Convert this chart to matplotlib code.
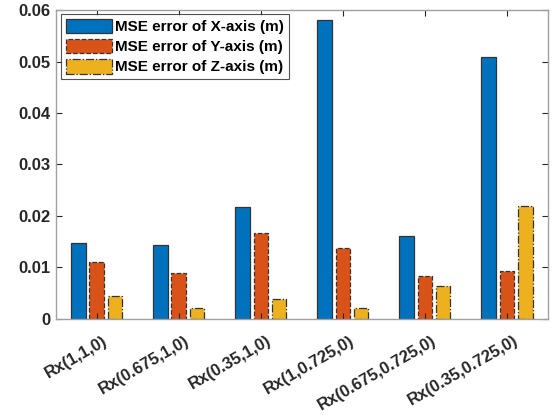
import numpy as np
import matplotlib.pyplot as plt
from matplotlib.transforms import ScaledTranslation

plt.rcParams['font.family'] = ['Liberation Sans', 'DejaVu Sans']
plt.rcParams['font.weight'] = 'bold'

configs = ['Rx(1,1,0)', 'Rx(0.675,1,0)', 'Rx(0.35,1,0)',
           'Rx(1,0.725,0)', 'Rx(0.675,0.725,0)', 'Rx(0.35,0.725,0)']
mse_x = [0.0148, 0.0144, 0.0218, 0.0581, 0.0161, 0.0509]
mse_y = [0.0111, 0.0090, 0.0167, 0.0137, 0.0084, 0.0093]
mse_z = [0.0044, 0.0022, 0.0039, 0.0022, 0.0064, 0.0219]

series = [
    (mse_x, 'MSE error of X-axis (m)', '#0072BD', '-'),
    (mse_y, 'MSE error of Y-axis (m)', '#D95319', '--'),
    (mse_z, 'MSE error of Z-axis (m)', '#EDB120', '-.'),
]

fig = plt.figure(figsize=(5.59, 4.18), dpi=100)
ax = fig.add_axes([0.0996, 0.237, 0.8808, 0.739])

idx = np.arange(1, len(configs) + 1)
step = 0.222
width = 0.178
for i, (vals, lab, col, ls) in enumerate(series):
    ax.bar(idx + (i - 1) * step, vals, width, color=col, edgecolor='#333333',
           linewidth=0.9, linestyle=ls, label=lab)

ax.set_xlim(0.5, 6.5)
ax.set_ylim(0, 0.06)
ax.set_yticks(np.arange(0, 0.061, 0.01))
ax.set_yticklabels(['0', '0.01', '0.02', '0.03', '0.04', '0.05', '0.06'],
                   fontweight='bold')
ax.set_xticks(idx)
ax.set_xticklabels(configs, rotation=30, ha='right', rotation_mode='anchor',
                   fontweight='bold')

# MATLAB-like box with inward ticks on every side
ax.tick_params(direction='in', top=True, right=True, length=4, width=0.8,
               color='#262626', labelsize=12, labelcolor='#262626')
ax.tick_params(axis='x', pad=10)
shift = ScaledTranslation(6 / 100, 0, fig.dpi_scale_trans)
for lbl in ax.get_xticklabels():
    lbl.set_transform(lbl.get_transform() + shift)
for sp in ax.spines.values():
    sp.set_color('#a0a0a0')
    sp.set_linewidth(1.0)

leg = ax.legend(loc='upper left', bbox_to_anchor=(0.011, 0.987), fontsize=11,
                frameon=True, fancybox=False, borderpad=0.3, labelspacing=0.3,
                handlelength=3.0, handleheight=1.1, handletextpad=0.25,
                borderaxespad=0)
leg.get_frame().set_edgecolor('#262626')
leg.get_frame().set_linewidth(0.8)

fig.savefig('out.png', dpi=100)
